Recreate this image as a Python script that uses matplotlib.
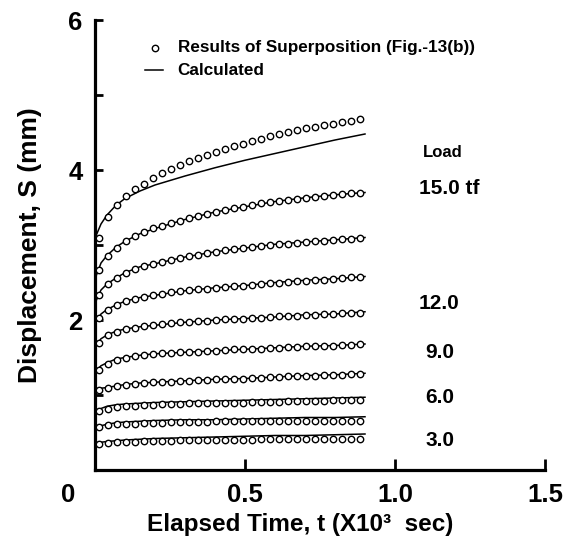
import matplotlib
matplotlib.use("Agg")
import matplotlib.pyplot as plt
import numpy as np

plt.rcParams['font.family'] = ['Liberation Sans', 'DejaVu Sans']
plt.rcParams['font.weight'] = 'bold'

# Marker times (x10^3 sec)
t_marker = [0.013 + 0.03 * k for k in range(30)]
# Calculated-curve sample times
t_line = [0.003, 0.02, 0.04, 0.07, 0.1, 0.15, 0.2, 0.3, 0.4, 0.5, 0.6, 0.7, 0.8, 0.9]

# Results of superposition (markers), top curve first
s1 = [3.10, 3.37, 3.54, 3.66, 3.75, 3.82, 3.89, 3.96, 4.02, 4.07, 4.12, 4.16, 4.20, 4.24, 4.28,
      4.32, 4.35, 4.39, 4.42, 4.45, 4.48, 4.51, 4.53, 4.56, 4.58, 4.60, 4.62, 4.64, 4.66, 4.68]
s2 = [2.67, 2.85, 2.96, 3.06, 3.12, 3.18, 3.22, 3.25, 3.29, 3.32, 3.36, 3.39, 3.41, 3.44, 3.47,
      3.49, 3.51, 3.53, 3.56, 3.57, 3.59, 3.60, 3.61, 3.63, 3.64, 3.65, 3.67, 3.68, 3.69, 3.69]
s3 = [2.33, 2.48, 2.56, 2.63, 2.68, 2.72, 2.75, 2.78, 2.80, 2.83, 2.85, 2.87, 2.89, 2.91, 2.93,
      2.95, 2.96, 2.97, 2.99, 3.00, 3.01, 3.02, 3.03, 3.04, 3.05, 3.06, 3.07, 3.08, 3.08, 3.09]
s4 = [2.03, 2.13, 2.20, 2.25, 2.28, 2.31, 2.33, 2.35, 2.37, 2.39, 2.40, 2.41, 2.42, 2.43, 2.44,
      2.45, 2.46, 2.47, 2.48, 2.49, 2.50, 2.51, 2.52, 2.52, 2.53, 2.54, 2.55, 2.56, 2.57, 2.58]
s5 = [1.69, 1.80, 1.84, 1.88, 1.90, 1.92, 1.93, 1.95, 1.96, 1.97, 1.98, 1.99, 1.99, 2.00, 2.01,
      2.01, 2.02, 2.03, 2.03, 2.04, 2.05, 2.05, 2.06, 2.07, 2.07, 2.08, 2.08, 2.09, 2.09, 2.10]
s6 = [1.34, 1.42, 1.47, 1.50, 1.52, 1.53, 1.55, 1.56, 1.56, 1.57, 1.58, 1.58, 1.59, 1.59, 1.60,
      1.61, 1.61, 1.62, 1.62, 1.63, 1.63, 1.64, 1.64, 1.65, 1.65, 1.66, 1.66, 1.67, 1.67, 1.68]
s7 = [1.07, 1.10, 1.12, 1.14, 1.15, 1.16, 1.17, 1.18, 1.18, 1.19, 1.19, 1.20, 1.20, 1.21, 1.21,
      1.22, 1.22, 1.23, 1.23, 1.24, 1.24, 1.25, 1.25, 1.26, 1.26, 1.27, 1.27, 1.27, 1.28, 1.28]
s8 = [0.79, 0.82, 0.84, 0.85, 0.86, 0.87, 0.87, 0.88, 0.88, 0.88, 0.89, 0.89, 0.89, 0.90, 0.90,
      0.90, 0.90, 0.91, 0.91, 0.91, 0.91, 0.92, 0.92, 0.92, 0.92, 0.92, 0.93, 0.93, 0.93, 0.93]
s9 = [0.57, 0.60, 0.61, 0.62, 0.62, 0.63, 0.63, 0.63, 0.64, 0.64, 0.64, 0.64, 0.64, 0.65, 0.65,
      0.65, 0.65, 0.65, 0.65, 0.65, 0.66, 0.66, 0.66, 0.66, 0.66, 0.66, 0.66, 0.66, 0.66, 0.66]
s10 = [0.35, 0.36, 0.37, 0.38, 0.38, 0.39, 0.39, 0.39, 0.39, 0.40, 0.40, 0.40, 0.40, 0.40, 0.40,
       0.40, 0.40, 0.40, 0.41, 0.41, 0.41, 0.41, 0.41, 0.41, 0.41, 0.41, 0.41, 0.41, 0.41, 0.41]

# Calculated (lines)
c1 = [3.12, 3.28, 3.40, 3.53, 3.62, 3.72, 3.80, 3.92, 4.03, 4.13, 4.22, 4.31, 4.40, 4.48]
c2 = [2.58, 2.76, 2.86, 2.97, 3.05, 3.15, 3.22, 3.34, 3.44, 3.51, 3.58, 3.63, 3.67, 3.70]
c3 = [2.25, 2.40, 2.48, 2.56, 2.63, 2.71, 2.75, 2.84, 2.91, 2.96, 3.01, 3.04, 3.07, 3.10]
c4 = [1.97, 2.08, 2.14, 2.20, 2.25, 2.30, 2.33, 2.39, 2.43, 2.46, 2.50, 2.53, 2.55, 2.58]
c5 = [1.66, 1.75, 1.80, 1.85, 1.88, 1.91, 1.93, 1.97, 2.00, 2.02, 2.04, 2.07, 2.08, 2.11]
c6 = [1.32, 1.39, 1.43, 1.48, 1.50, 1.53, 1.55, 1.57, 1.59, 1.61, 1.63, 1.65, 1.66, 1.68]
c7 = [1.05, 1.09, 1.10, 1.12, 1.14, 1.16, 1.17, 1.19, 1.21, 1.22, 1.24, 1.26, 1.27, 1.29]
c8 = [0.78, 0.82, 0.85, 0.87, 0.88, 0.89, 0.90, 0.91, 0.92, 0.93, 0.94, 0.95, 0.96, 0.97]
c9 = [0.55, 0.59, 0.61, 0.63, 0.64, 0.65, 0.66, 0.67, 0.67, 0.68, 0.69, 0.70, 0.70, 0.71]
c10 = [0.34, 0.37, 0.38, 0.39, 0.40, 0.41, 0.42, 0.43, 0.44, 0.45, 0.46, 0.46, 0.47, 0.48]

load_labels = ['15.0 tf', '12.0', '9.0', '6.0', '3.0']
load_label_x = [1.08, 1.08, 1.10, 1.10, 1.10]
load_label_y = [3.75, 2.22, 1.57, 0.97, 0.40]

x_ticks = [0.5, 1.0, 1.5]
x_ticklabels = ['0.5', '1.0', '1.5']
y_ticks = [1, 2, 3, 4, 5, 6]
y_ticklabels = ['', '2', '', '4', '', '6']

markers = [s1, s2, s3, s4, s5, s6, s7, s8, s9, s10]
lines = [c1, c2, c3, c4, c5, c6, c7, c8, c9, c10]

fig = plt.figure(figsize=(5.68, 5.42), dpi=100)
ax = fig.add_axes([95 / 568, 72 / 542, 450 / 568, 450 / 542])

for s, c in zip(markers, lines):
    ax.plot(t_line, c, color='black', lw=1.1, zorder=2)
    ax.plot(t_marker, s, linestyle='none', marker='o', ms=4.6, mfc='white',
            mec='black', mew=1.0, zorder=3)

ax.set_xlim(0, 1.5)
ax.set_ylim(0, 6)
for side in ['top', 'right']:
    ax.spines[side].set_visible(False)
for side in ['left', 'bottom']:
    ax.spines[side].set_linewidth(2.3)

ax.set_xticks(x_ticks)
ax.set_xticklabels(x_ticklabels, fontsize=18.5, fontweight='bold')
ax.set_yticks(y_ticks)
ax.set_yticklabels(y_ticklabels, fontsize=18.5, fontweight='bold')
ax.tick_params(axis='x', direction='in', length=8, width=2, pad=9)
ax.tick_params(axis='y', direction='in', length=6, width=2, pad=9)
ax.text(-0.09, -0.029, '0', transform=ax.get_xaxis_transform(), ha='center', va='top',
        fontsize=18.5, fontweight='bold')

ax.set_xlabel('Elapsed Time, t (X10\u00b3  sec)', fontsize=17.5, fontweight='bold')
ax.xaxis.set_label_coords(0.456, -0.122, transform=ax.transAxes)
ax.xaxis.label.set_va('center')
ax.set_ylabel('Displacement, S (mm)', fontsize=19, fontweight='bold')
ax.yaxis.set_label_coords(-0.144, 0.5, transform=ax.transAxes)
ax.yaxis.label.set_va('center')

# legend (drawn as text entries)
ax.plot([0.20], [5.63], linestyle='none', marker='o', ms=4.6, mfc='white', mec='black', mew=1.0,
        clip_on=False)
ax.plot([0.167, 0.227], [5.33, 5.33], color='black', lw=1.1)
ax.text(0.275, 5.63, 'Results of Superposition (Fig.-13(b))', fontsize=12.3, fontweight='bold',
        va='center', ha='left')
ax.text(0.275, 5.33, 'Calculated', fontsize=12.3, fontweight='bold', va='center', ha='left')

ax.text(1.16, 4.23, 'Load', fontsize=12, fontweight='bold', ha='center', va='center')
for lab, xv, yv in zip(load_labels, load_label_x, load_label_y):
    ax.text(xv, yv, lab, fontsize=15, fontweight='bold', ha='left', va='center')

fig.savefig('out.png', dpi=100)
